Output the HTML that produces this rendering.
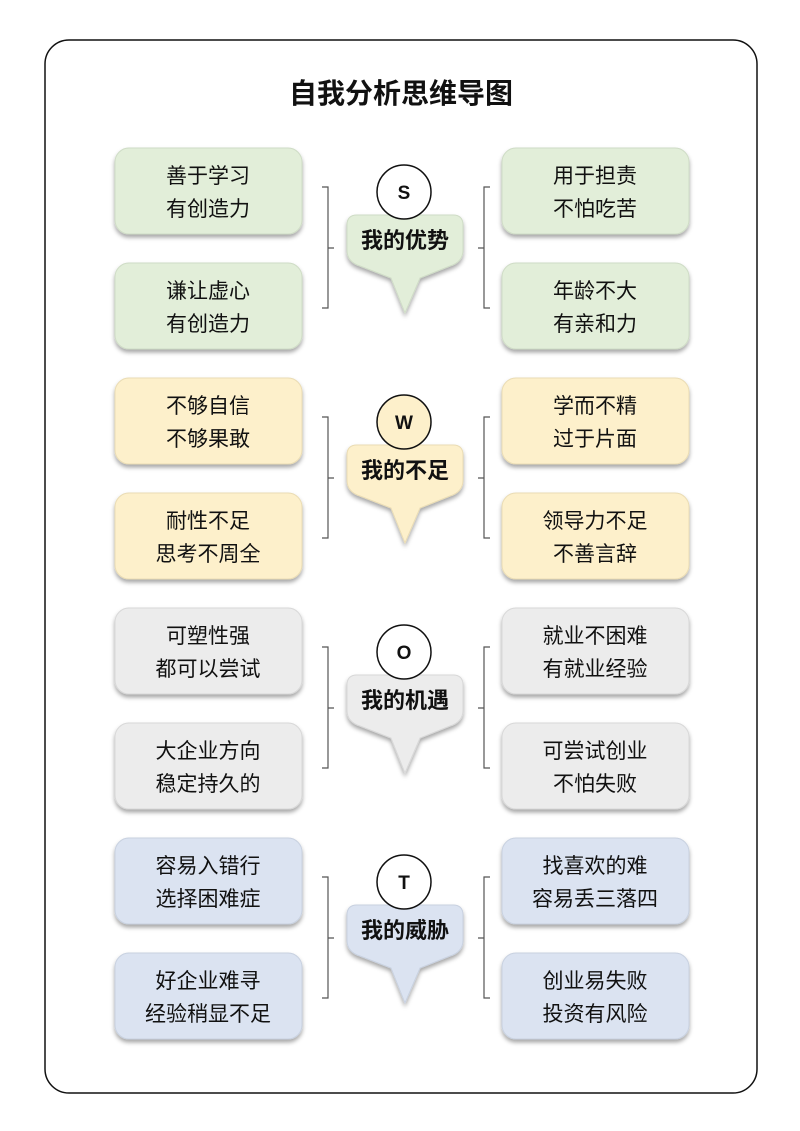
<!DOCTYPE html>
<html><head><meta charset="utf-8"><style>
html,body{margin:0;padding:0;background:#fff;}
svg{display:block;font-family:"Liberation Sans","Noto Sans CJK SC",sans-serif;}
</style></head><body>
<svg width="800" height="1131" viewBox="0 0 800 1131" xmlns="http://www.w3.org/2000/svg">
<defs>
<filter id="sh" x="-10%" y="-10%" width="120%" height="130%"><feDropShadow dx="0" dy="3" stdDeviation="2" flood-color="#000" flood-opacity="0.35"/></filter>
</defs>
<rect x="45" y="40" width="712" height="1053" rx="24" fill="#fff" stroke="#111" stroke-width="1.5"/>
<text x="401" y="103" text-anchor="middle" font-size="28" font-weight="bold" fill="#111">自我分析思维导图</text>

<g id="sec" font-size="21" fill="#111" text-anchor="middle">
</g>

<!-- Section generator by hand -->
<!-- S -->
<g transform="translate(0,0)">
 <g filter="url(#sh)" fill="#e2eed9" stroke="#cfdcc6" stroke-width="1">
  <rect x="115" y="148" width="187" height="86" rx="14"/>
  <rect x="115" y="263" width="187" height="86" rx="14"/>
  <rect x="502" y="148" width="187" height="86" rx="14"/>
  <rect x="502" y="263" width="187" height="86" rx="14"/>
  <path d="M357,215 H453 Q463,215 463,225 V250 Q463,262 450,266 L420,278 L405,313 L391,278 L360,266 Q347,262 347,250 V225 Q347,215 357,215 Z"/>
 </g>
</g>
<!-- W -->
<g transform="translate(0,230)">
 <g filter="url(#sh)" fill="#fdf0cb" stroke="#eadcb4" stroke-width="1">
  <rect x="115" y="148" width="187" height="86" rx="14"/>
  <rect x="115" y="263" width="187" height="86" rx="14"/>
  <rect x="502" y="148" width="187" height="86" rx="14"/>
  <rect x="502" y="263" width="187" height="86" rx="14"/>
  <path d="M357,215 H453 Q463,215 463,225 V250 Q463,262 450,266 L420,278 L405,313 L391,278 L360,266 Q347,262 347,250 V225 Q347,215 357,215 Z"/>
 </g>
</g>
<!-- O -->
<g transform="translate(0,460)">
 <g filter="url(#sh)" fill="#ececec" stroke="#d8d8d8" stroke-width="1">
  <rect x="115" y="148" width="187" height="86" rx="14"/>
  <rect x="115" y="263" width="187" height="86" rx="14"/>
  <rect x="502" y="148" width="187" height="86" rx="14"/>
  <rect x="502" y="263" width="187" height="86" rx="14"/>
  <path d="M357,215 H453 Q463,215 463,225 V250 Q463,262 450,266 L420,278 L405,313 L391,278 L360,266 Q347,262 347,250 V225 Q347,215 357,215 Z"/>
 </g>
</g>
<!-- T -->
<g transform="translate(0,690)">
 <g filter="url(#sh)" fill="#dbe3f1" stroke="#c8d1e0" stroke-width="1">
  <rect x="115" y="148" width="187" height="86" rx="14"/>
  <rect x="115" y="263" width="187" height="86" rx="14"/>
  <rect x="502" y="148" width="187" height="86" rx="14"/>
  <rect x="502" y="263" width="187" height="86" rx="14"/>
  <path d="M357,215 H453 Q463,215 463,225 V250 Q463,262 450,266 L420,278 L405,313 L391,278 L360,266 Q347,262 347,250 V225 Q347,215 357,215 Z"/>
 </g>
</g>

<!-- brackets & circles -->
<g fill="none" stroke="#555" stroke-width="1.2">
 <path d="M322,187 H328 V308 H322 M328,248 H334 M490,187 H484 V308 H490 M484,248 H478"/>
 <path transform="translate(0,230)" d="M322,187 H328 V308 H322 M328,248 H334 M490,187 H484 V308 H490 M484,248 H478"/>
 <path transform="translate(0,460)" d="M322,187 H328 V308 H322 M328,248 H334 M490,187 H484 V308 H490 M484,248 H478"/>
 <path transform="translate(0,690)" d="M322,187 H328 V308 H322 M328,248 H334 M490,187 H484 V308 H490 M484,248 H478"/>
</g>
<g stroke="#111" stroke-width="1.5">
 <circle cx="404" cy="192" r="27" fill="#fff"/>
 <circle cx="404" cy="422" r="27" fill="#fdf0cb"/>
 <circle cx="404" cy="652" r="27" fill="#fff"/>
 <circle cx="404" cy="882" r="27" fill="#fff"/>
</g>
<g font-size="19" font-weight="bold" text-anchor="middle" fill="#111">
 <text x="404" y="199">S</text>
 <text x="404" y="429">W</text>
 <text x="404" y="659">O</text>
 <text x="404" y="889">T</text>
</g>
<g font-size="22" font-weight="bold" text-anchor="middle" fill="#111">
 <text x="405" y="248">我的优势</text>
 <text x="405" y="478">我的不足</text>
 <text x="405" y="708">我的机遇</text>
 <text x="405" y="938">我的威胁</text>
</g>
<g font-size="21" text-anchor="middle" fill="#111">
 <text x="208" y="183">善于学习</text><text x="208" y="216">有创造力</text>
 <text x="208" y="298">谦让虚心</text><text x="208" y="331">有创造力</text>
 <text x="595" y="183">用于担责</text><text x="595" y="216">不怕吃苦</text>
 <text x="595" y="298">年龄不大</text><text x="595" y="331">有亲和力</text>

 <text x="208" y="413">不够自信</text><text x="208" y="446">不够果敢</text>
 <text x="208" y="528">耐性不足</text><text x="208" y="561">思考不周全</text>
 <text x="595" y="413">学而不精</text><text x="595" y="446">过于片面</text>
 <text x="595" y="528">领导力不足</text><text x="595" y="561">不善言辞</text>

 <text x="208" y="643">可塑性强</text><text x="208" y="676">都可以尝试</text>
 <text x="208" y="758">大企业方向</text><text x="208" y="791">稳定持久的</text>
 <text x="595" y="643">就业不困难</text><text x="595" y="676">有就业经验</text>
 <text x="595" y="758">可尝试创业</text><text x="595" y="791">不怕失败</text>

 <text x="208" y="873">容易入错行</text><text x="208" y="906">选择困难症</text>
 <text x="208" y="988">好企业难寻</text><text x="208" y="1021">经验稍显不足</text>
 <text x="595" y="873">找喜欢的难</text><text x="595" y="906">容易丢三落四</text>
 <text x="595" y="988">创业易失败</text><text x="595" y="1021">投资有风险</text>
</g>
</svg>
</body></html>
